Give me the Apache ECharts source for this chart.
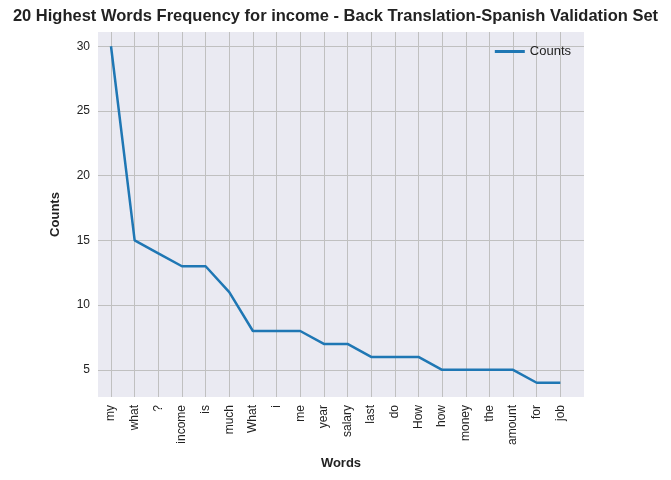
<!DOCTYPE html>
<html>
<head>
<meta charset="utf-8">
<script src="https://cdn.jsdelivr.net/npm/echarts@6/dist/echarts.min.js"></script>
<style>html,body{margin:0;padding:0;background:#fff}#c{width:671px;height:480px}</style>
</head>
<body>
<div id="c"></div>
<script>
var words = ['my','what','?','income','is','much','What','i','me','year','salary','last','do','How','how','money','the','amount','for','job'];
var counts = [30,15,14,13,13,11,8,8,8,7,7,6,6,6,5,5,5,5,4,4];
var yTicks = [5,10,15,20,25,30];
var xTicks = words.map(function (w, i) { return i; });

var chart = echarts.init(document.getElementById('c'));
chart.setOption({
  animation: false,
  textStyle: { fontFamily: 'Arial, Liberation Sans, sans-serif' },
  title: {
    text: '20 Highest Words Frequency for income - Back Translation-Spanish Validation Set',
    left: 'center', top: 3,
    textStyle: { fontSize: 16.5, fontWeight: 'bold', color: '#222' }
  },
  legend: {
    data: ['Counts'], right: 95, top: 40, icon: 'path://M0,0 L30,0 L30,3 L0,3 Z',
    itemWidth: 30, itemHeight: 3,
    textStyle: { fontSize: 13, color: '#222' }
  },
  grid: { left: 98, right: 87, top: 32, bottom: 83, show: true, backgroundColor: '#eaeaf2', borderWidth: 0 },
  xAxis: {
    type: 'value', min: -0.55, max: 20.0,
    name: 'Words', nameLocation: 'middle', nameGap: 60,
    nameTextStyle: { fontWeight: 'bold', fontSize: 13, color: '#222' },
    axisLine: { show: false }, axisTick: { show: false, customValues: xTicks },
    axisLabel: { customValues: xTicks, rotate: 90, fontSize: 12, color: '#222',
      formatter: function (v) { return words[Math.round(v)]; } },
    splitLine: { show: true, lineStyle: { color: '#c0c0c0', width: 1 } }
  },
  yAxis: {
    type: 'value', min: 2.9, max: 31.1,
    name: 'Counts', nameLocation: 'middle', nameGap: 36,
    nameTextStyle: { fontWeight: 'bold', fontSize: 13, color: '#222' },
    axisLine: { show: false }, axisTick: { show: false, customValues: yTicks },
    axisLabel: { customValues: yTicks, fontSize: 12, color: '#222' },
    splitLine: { show: true, lineStyle: { color: '#c0c0c0', width: 1 } }
  },
  series: [{
    name: 'Counts', type: 'line', showSymbol: false,
    lineStyle: { color: '#1f77b4', width: 2.5 }, itemStyle: { color: '#1f77b4' },
    data: counts.map(function (v, i) { return [i, v]; })
  }]
});
</script>
</body>
</html>
